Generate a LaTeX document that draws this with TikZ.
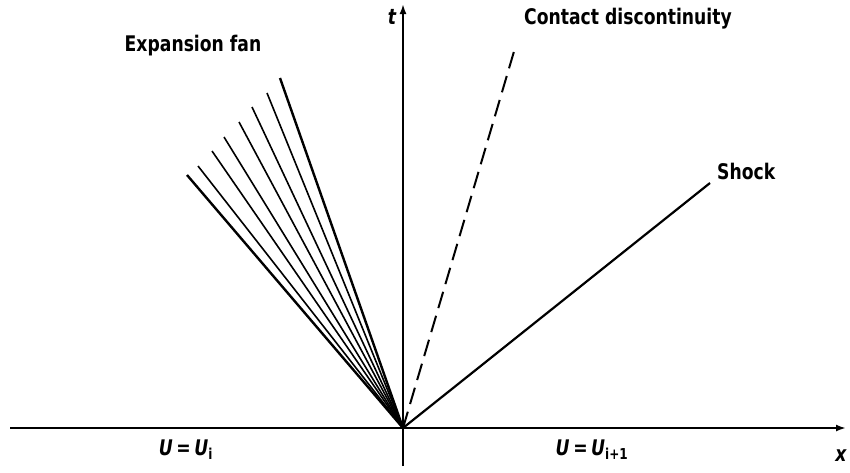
\documentclass[tikz,border=0pt]{standalone}
\usepackage{fontspec}
\setmainfont{DejaVu Sans}[FakeStretch=0.8]
\usetikzlibrary{arrows.meta}
\begin{document}
\begin{tikzpicture}[x=1pt,y=-1pt,
  axis/.style={line width=2.4pt,-{Latex[length=10pt,width=7pt]}},
  fanline/.style={line width=1.6pt},
  fanedge/.style={line width=2.4pt},
  lab/.style={font=\fontsize{21.5}{24}\selectfont\bfseries, inner sep=0pt},
  ilab/.style={font=\fontsize{21.5}{24}\selectfont\bfseries\itshape, inner sep=0pt}]
\useasboundingbox (0,0) rectangle (850,472);
\coordinate (O) at (403,428);
\coordinate (xl) at (10,428);
\coordinate (xr) at (846,428);
\coordinate (tb) at (403,466);
\coordinate (tt) at (403,4);
\draw[axis] (xl) -- (xr);
\draw[axis] (tb) -- (tt);
% expansion fan
\coordinate (f1) at (187,175);
\coordinate (f2) at (198,166);
\coordinate (f3) at (212,151);
\coordinate (f4) at (224,137);
\coordinate (f5) at (239,122);
\coordinate (f6) at (252,107);
\coordinate (f7) at (267,93);
\coordinate (f8) at (280,78);
\draw[fanedge] (O) -- (f1);
\foreach \k in {2,...,7} \draw[fanline] (O) -- (f\k);
\draw[fanedge] (O) -- (f8);
% contact
\coordinate (cd) at (515,48);
\draw[line width=2pt, dash pattern=on 17pt off 8pt] (O) -- (cd);
% shock
\coordinate (sh) at (710,183);
\draw[line width=2.2pt] (O) -- (sh);
% labels
\node[lab] (lfan) at (193,46) {Expansion fan};
\node[lab, anchor=west] (lcd) at (524,19) {Contact discontinuity};
\node[lab, anchor=west] (lsh) at (717,171) {Shock};
\node[ilab] (lt) at (392,17) {t};
\node[ilab] (lx) at (841,456) {x};
\node[ilab] (lui) at (186,450) {U\,=\,U\textsubscript{\upshape i}};
\node[ilab] (lui1) at (592,450) {U\,=\,U\textsubscript{\upshape i+1}};
\end{tikzpicture}
\end{document}
